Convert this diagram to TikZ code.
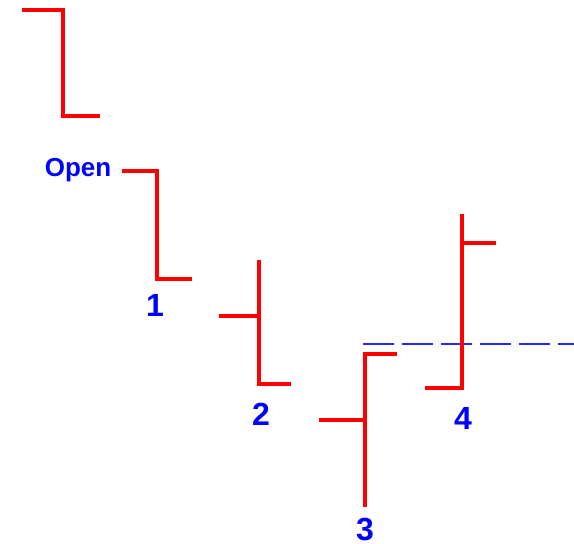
\documentclass[tikz,border=0pt]{standalone}
\usepackage{fontspec}
\setmainfont{Liberation Sans}
\begin{document}
\begin{tikzpicture}[x=1pt,y=-1pt,
  bar/.style={draw=red,line width=3.5pt,line join=miter,line cap=butt},
  level/.style={draw=blue!85!white,line width=2.2pt,dash pattern=on 31pt off 8pt},
  lbl/.style={text=blue,font=\bfseries\fontsize{32}{34}\selectfont,anchor=base,inner sep=0pt},
  openlbl/.style={text=blue,font=\bfseries\fontsize{26}{28}\selectfont,anchor=base,inner sep=0pt}]
\useasboundingbox (0,0) rectangle (574,544);
% level line
\coordinate (l0) at (363,344);
\coordinate (l1) at (574,344);
\draw[level] (l0) -- (l1);
% bars
\draw[bar] (22,10) -- (63,10) -- (63,116) -- (100,116);
\draw[bar] (122,171) -- (157,171) -- (157,279) -- (192,279);
\draw[bar] (219,316) -- (259,316);
\draw[bar] (259,260) -- (259,384) -- (291,384);
\draw[bar] (319,420) -- (365,420);
\draw[bar] (365,507) -- (365,352);
\draw[bar] (365,354) -- (397,354);
\draw[bar] (425,388) -- (462,388) -- (462,214);
\draw[bar] (462,243) -- (496,243);
% labels
\node[openlbl] (open) at (78,176) {Open};
\node[lbl] (n1) at (155,316) {1};
\node[lbl] (n2) at (261,425) {2};
\node[lbl] (n3) at (365,540) {3};
\node[lbl] (n4) at (463,429) {4};
\end{tikzpicture}
\end{document}
